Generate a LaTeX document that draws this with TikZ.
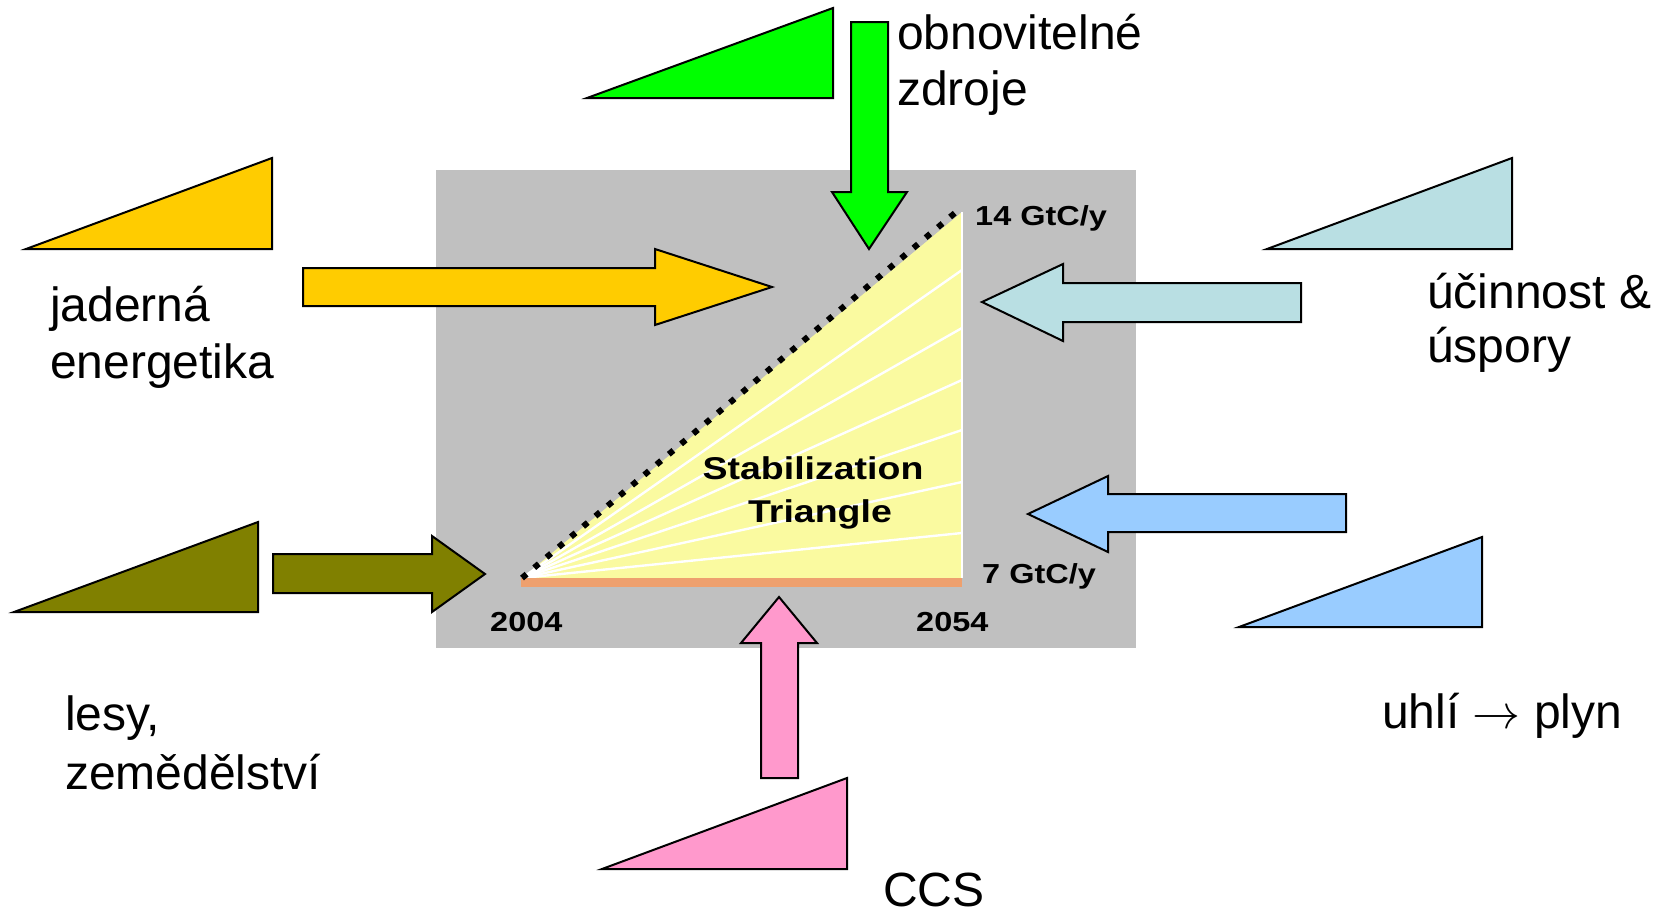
\documentclass[tikz,border=0pt]{standalone}
\usepackage{fontspec}
\setmainfont{Liberation Sans}
\definecolor{boxgray}{RGB}{192,192,192}
\definecolor{triyellow}{RGB}{250,250,160}
\definecolor{barorange}{RGB}{238,160,110}
\definecolor{cyellow}{RGB}{255,204,0}
\definecolor{cgreen}{RGB}{0,255,0}
\definecolor{clblue}{RGB}{185,223,227}
\definecolor{colive}{RGB}{128,128,0}
\definecolor{cblue}{RGB}{153,204,255}
\definecolor{cpink}{RGB}{255,153,204}
\begin{document}
\begin{tikzpicture}[x=1pt,y=-1pt,
  outl/.style={draw=black,line width=2pt,line join=miter},
  big/.style={font=\fontsize{48}{55}\selectfont,anchor=base west,inner sep=0pt},
  small/.style={font=\bfseries\fontsize{27.5}{30}\selectfont,xscale=1.18,anchor=base west,inner sep=0pt},
  title/.style={font=\bfseries\fontsize{31.5}{36}\selectfont,xscale=1.19,anchor=base,inner sep=0pt}]
\useasboundingbox (0,0) rectangle (1665,914);
\fill[white] (0,0) rectangle (1665,914);
% gray panel
\fill[boxgray] (436,170) rectangle (1136,648);
% stabilization triangle
\coordinate (v0) at (522,578);
\coordinate (vr) at (962,578);
\coordinate (vt) at (962,212);
\fill[triyellow] (v0) -- (vr) -- (vt) -- cycle;
\foreach \yy in {270,328,380,430,482,533}
  \draw[white,line width=2.4pt] (v0) -- (962,\yy);
\fill[barorange] (521,578) rectangle (962,587);
\draw[white,line width=1.5pt] (962,212) -- (962,578);
\coordinate (dtop) at (962,207);
\draw[black,line width=6pt,dash pattern=on 6pt off 10pt] (v0) -- (dtop);
\node[small] (l14) at (975,225) {14 GtC/y};
\node[small] (l7) at (982,583) {7 GtC/y};
\node[small] (y1) at (490,631) {2004};
\node[small] (y2) at (916,631) {2054};
\node[title] (st1) at (813,479) {Stabilization};
\node[title] (st2) at (820,522) {Triangle};
% wedges (small triangles)
\draw[outl,fill=cgreen] (587,98) -- (833,98) -- (833,8) -- cycle;
\draw[outl,fill=cyellow] (26,249) -- (272,249) -- (272,158) -- cycle;
\draw[outl,fill=clblue] (1267,249) -- (1512,249) -- (1512,158) -- cycle;
\draw[outl,fill=colive] (14,612) -- (258,612) -- (258,522) -- cycle;
\draw[outl,fill=cblue] (1239,627) -- (1482,627) -- (1482,537) -- cycle;
\draw[outl,fill=cpink] (602,869) -- (847,869) -- (847,778) -- cycle;
% block arrows
\draw[outl,fill=cgreen] (851,22) -- (888,22) -- (888,192) -- (907,192) -- (869,249) -- (832,192) -- (851,192) -- cycle;
\draw[outl,fill=cyellow] (303,268) -- (655,268) -- (655,249) -- (772,287) -- (655,325) -- (655,306) -- (303,306) -- cycle;
\draw[outl,fill=clblue] (1301,283) -- (1063,283) -- (1063,264) -- (982,302) -- (1063,341) -- (1063,322) -- (1301,322) -- cycle;
\draw[outl,fill=colive] (273,554) -- (432,554) -- (432,536) -- (485,574) -- (432,612) -- (432,593) -- (273,593) -- cycle;
\draw[outl,fill=cblue] (1346,494) -- (1108,494) -- (1108,476) -- (1028,514) -- (1108,552) -- (1108,532) -- (1346,532) -- cycle;
\draw[outl,fill=cpink] (761,778) -- (761,643) -- (741,643) -- (779,597) -- (817,643) -- (798,643) -- (798,778) -- cycle;
% labels
\node[big] (t1a) at (897,49) {obnovitelné};
\node[big] (t1b) at (897,105) {zdroje};
\node[big] (t2a) at (50,321) {jaderná};
\node[big] (t2b) at (50,378) {energetika};
\node[big] (t3a) at (1427,308) {účinnost \&};
\node[big] (t3b) at (1427,362) {úspory};
\node[big] (t4a) at (65,730) {lesy,};
\node[big] (t4b) at (65,789) {zemědělství};
\node[big] (t5) at (1382,728) {uhlí \scalebox{4.8}{\normalsize$\rightarrow$} plyn};
\node[big,text depth=0pt] (t6) at (883,906) {CCS};
\end{tikzpicture}
\end{document}
